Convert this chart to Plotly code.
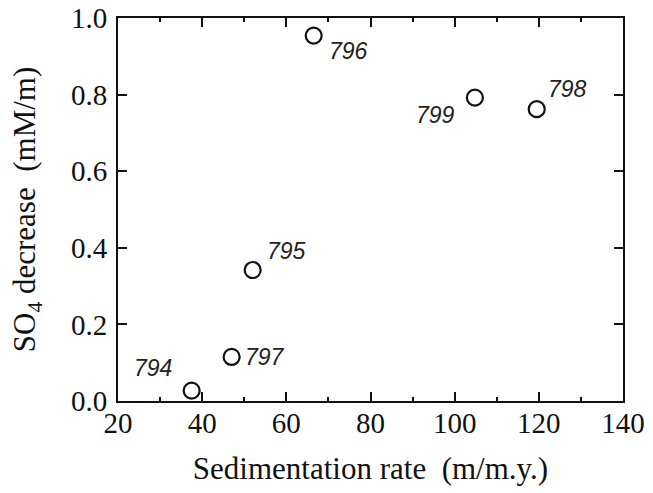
import plotly.graph_objects as go

# Data
sites = ["794", "797", "795", "796", "799", "798"]
sed_rate = [37.5, 47.0, 52.0, 66.5, 104.8, 119.5]
so4_decrease = [0.027, 0.115, 0.342, 0.954, 0.792, 0.762]

x_ticks = [20, 40, 60, 80, 100, 120, 140]
y_ticks = [0.0, 0.2, 0.4, 0.6, 0.8, 1.0]

# label offsets in px (style)
label_dx = [-39, 33, 34, 35, -39, 31]
label_dy = [23, 0, 19, -15, -17, 20]

serif = "Liberation Serif"

fig = go.Figure()
fig.add_trace(go.Scatter(
    x=sed_rate, y=so4_decrease, mode="markers",
    marker=dict(symbol="circle-open", size=16, color="#111",
                line=dict(width=2.2, color="#111")),
    showlegend=False, cliponaxis=False,
))

for s, xv, yv, dx, dy in zip(sites, sed_rate, so4_decrease, label_dx, label_dy):
    fig.add_annotation(x=xv, y=yv, xref="x", yref="y", text=s, showarrow=False,
                       xshift=dx, yshift=dy,
                       font=dict(family="Liberation Sans", size=23, color="#222", style="italic"))

axis_common = dict(
    showline=True, linecolor="#111", linewidth=2, mirror="ticks",
    ticks="inside", ticklen=9, tickwidth=2, tickcolor="#111",
    showgrid=False, zeroline=False, automargin=False,
    tickfont=dict(family=serif, size=29, color="#111"),
)

fig.update_xaxes(
    range=[20, 140], tickvals=x_ticks, ticktext=[str(v) for v in x_ticks],
    minor=dict(ticks="inside", ticklen=4, tickwidth=2, tickcolor="#111", dtick=10, tick0=20),
    title=dict(text="Sedimentation rate\u00a0\u00a0(m/m.y.)",
               font=dict(family=serif, size=31, color="#111"), standoff=20),
    ticklabelstandoff=-5,
    **axis_common,
)
fig.update_yaxes(
    range=[0, 1.0], tickvals=y_ticks, ticktext=[f"{v:.1f}" for v in y_ticks],
    title=dict(text="SO<sub>4</sub> decrease\u00a0\u00a0(mM/m)",
               font=dict(family=serif, size=31, color="#111"), standoff=26),
    ticklabelstandoff=3,
    **axis_common,
)

fig.update_layout(
    template="none",
    width=653, height=493,
    margin=dict(l=118, r=30, t=18, b=92),
    plot_bgcolor="white", paper_bgcolor="white",
)

fig.write_html("out.html")
